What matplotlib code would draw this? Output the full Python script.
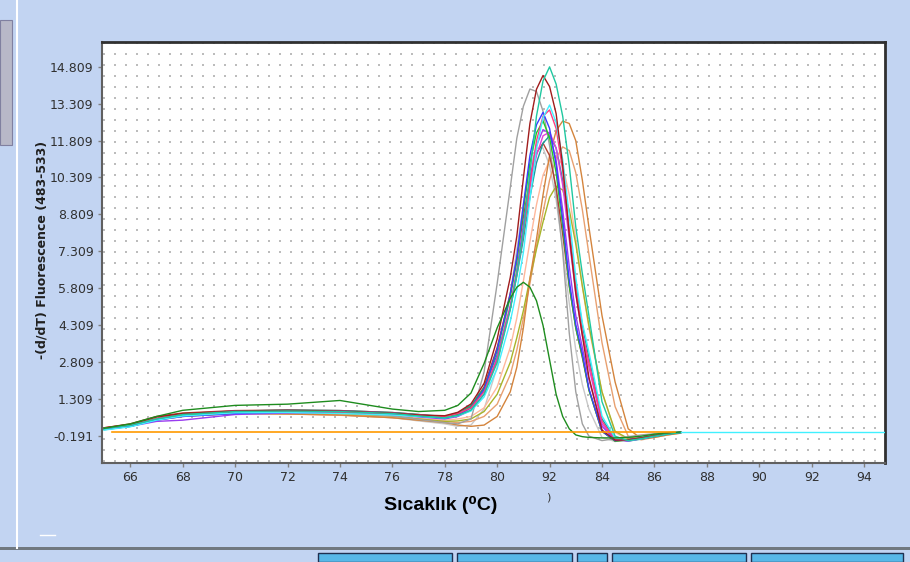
import numpy as np
import matplotlib

matplotlib.use("Agg")
import matplotlib.pyplot as plt
from matplotlib.patches import Rectangle
from matplotlib.lines import Line2D

# Temperaturas comunes de todas las curvas
temperaturas = [65, 66, 67, 68, 70, 72, 74, 76, 77,
                78, 78.5, 79, 79.5, 80, 80.5, 80.75, 81, 81.25, 81.5, 81.75,
                82, 82.25, 82.5, 82.75, 83, 83.25, 83.5, 84, 84.5, 85, 85.5,
                86, 86.5, 87]

# Curvas de fusion -(d/dT)
curva_gris = [0.1, 0.22, 0.48, 0.65, 0.78, 0.8, 0.75, 0.62, 0.48,
              0.35, 0.3, 0.5, 2.4, 6.0, 9.9, 11.9, 13.2, 13.9, 13.8, 13.0, 11.6, 9.7, 7.3, 4.0,
              1.6, 0.3, -0.2, -0.38, -0.3, -0.22, -0.15, -0.1, -0.06, -0.03]
curva_gris_clara = [0.12, 0.25, 0.5, 0.66, 0.74, 0.72, 0.66, 0.55, 0.42,
                    0.3, 0.2, 0.25, 0.9, 2.6, 5.6, 7.4, 9.2, 10.7, 11.5, 11.5, 10.8, 9.4, 7.4, 5.2,
                    3.3, 1.9, 0.9, -0.25, -0.42, -0.32, -0.22, -0.14, -0.08, -0.04]
curva_salmon = [0.1, 0.22, 0.48, 0.65, 0.75, 0.74, 0.7, 0.6, 0.52,
                0.45, 0.5, 0.6, 0.95, 1.8, 3.4, 4.6, 6.1, 7.7, 9.2, 10.4, 11.0, 11.2, 10.8, 9.6,
                7.8, 5.9, 4.2, 1.6, -0.05, -0.35, -0.3, -0.2, -0.12, -0.06]
curva_durazno = [0.1, 0.22, 0.46, 0.62, 0.72, 0.7, 0.65, 0.55, 0.46,
                 0.4, 0.35, 0.4, 0.6, 1.1, 2.3, 3.3, 4.6, 6.0, 7.5, 8.9, 10.2, 11.1, 11.55, 11.4,
                 10.5, 9.0, 7.2, 3.6, 1.0, -0.2, -0.35, -0.25, -0.15, -0.07]
curva_oliva = [0.12, 0.25, 0.5, 0.66, 0.76, 0.76, 0.72, 0.62, 0.5,
               0.4, 0.42, 0.5, 0.8, 1.5, 2.8, 3.8, 4.9, 6.2, 7.4, 8.5, 9.5, 9.95, 9.8, 9.0,
               7.6, 5.9, 4.3, 1.6, 0.0, -0.3, -0.28, -0.18, -0.1, -0.05]
curva_naranja = [0.1, 0.22, 0.45, 0.6, 0.72, 0.7, 0.66, 0.55, 0.45,
                 0.35, 0.25, 0.2, 0.25, 0.6, 1.6, 2.6, 4.2, 6.2, 7.8, 9.6, 11.2, 12.2, 12.6, 12.5,
                 11.8, 10.2, 8.3, 4.7, 2.0, 0.1, -0.3, -0.25, -0.15, -0.08]
curva_marron = [0.14, 0.3, 0.6, 0.74, 0.84, 0.86, 0.84, 0.76, 0.68,
                0.55, 0.7, 1.0, 1.8, 3.4, 5.6, 7.0, 8.7, 10.2, 11.3, 11.7, 11.2, 9.9, 8.0, 5.9,
                4.2, 3.0, 1.7, 0.0, -0.4, -0.35, -0.27, -0.17, -0.1, -0.04]
curva_cian_osc = [0.06, 0.2, 0.48, 0.66, 0.82, 0.86, 0.84, 0.76, 0.68,
                  0.6, 0.75, 1.05, 1.75, 3.1, 5.0, 6.3, 7.8, 9.5, 10.9, 11.7, 12.0, 11.5, 10.2, 8.2,
                  6.0, 4.3, 3.0, 0.5, -0.3, -0.4, -0.32, -0.22, -0.12, -0.05]
curva_magenta = [0.12, 0.24, 0.5, 0.68, 0.82, 0.84, 0.82, 0.74, 0.65,
                 0.55, 0.68, 0.95, 1.65, 3.0, 5.1, 6.5, 8.2, 9.9, 11.2, 12.0, 12.15, 11.5, 10.0, 7.8,
                 5.6, 3.9, 2.6, 0.3, -0.35, -0.38, -0.3, -0.2, -0.1, -0.05]
curva_morada = [0.1, 0.2, 0.4, 0.45, 0.68, 0.74, 0.76, 0.68, 0.58,
                0.5, 0.6, 0.85, 1.5, 2.9, 5.0, 6.5, 8.4, 10.3, 11.6, 12.25, 12.1, 11.0, 9.0, 6.7,
                4.7, 3.4, 2.1, 0.2, -0.35, -0.4, -0.3, -0.2, -0.11, -0.05]
curva_verde = [0.08, 0.2, 0.48, 0.66, 0.8, 0.82, 0.78, 0.7, 0.62,
               0.57, 0.69, 0.98, 1.71, 3.28, 5.46, 6.91, 8.97, 10.9, 12.12, 12.6, 11.92, 10.49, 8.33, 5.93,
               4.19, 3.05, 1.67, 0.0, -0.4, -0.36, -0.28, -0.19, -0.1, -0.05]
curva_azul = [0.1, 0.2, 0.45, 0.6, 0.72, 0.78, 0.8, 0.7, 0.62,
              0.53, 0.65, 0.95, 1.7, 3.33, 5.58, 7.08, 9.2, 11.2, 12.45, 12.95, 12.3, 10.83, 8.6, 6.13,
              4.33, 3.15, 1.73, 0.0, -0.38, -0.34, -0.27, -0.18, -0.1, -0.05]
curva_rosa = [0.12, 0.25, 0.52, 0.7, 0.8, 0.82, 0.78, 0.72, 0.66,
              0.6, 0.72, 0.95, 1.6, 2.9, 5.0, 6.4, 8.0, 10.0, 11.8, 12.8, 13.05, 12.3, 10.6, 8.2,
              5.8, 4.0, 2.8, 0.4, -0.33, -0.36, -0.28, -0.18, -0.1, -0.04]
curva_cian = [0.05, 0.18, 0.45, 0.62, 0.75, 0.76, 0.72, 0.66, 0.6,
              0.54, 0.63, 0.82, 1.39, 2.54, 4.45, 5.73, 7.26, 9.43, 11.47, 12.74, 13.25, 12.54, 11.04, 8.77,
              6.25, 4.41, 3.22, 0.62, -0.28, -0.38, -0.3, -0.2, -0.1, -0.03]
curva_roja = [0.14, 0.28, 0.58, 0.72, 0.82, 0.85, 0.82, 0.74, 0.66,
              0.63, 0.77, 1.11, 1.94, 3.75, 6.25, 7.92, 10.28, 12.5, 13.89, 14.45, 14.0, 12.9, 10.8, 8.0,
              5.6, 3.9, 2.2, 0.05, -0.36, -0.35, -0.27, -0.18, -0.1, -0.04]
curva_turquesa = [0.12, 0.24, 0.5, 0.68, 0.8, 0.82, 0.8, 0.72, 0.62,
                  0.54, 0.64, 0.86, 1.5, 2.79, 4.93, 6.36, 8.08, 10.5, 12.8, 14.23, 14.8, 14.1, 12.8, 10.8,
                  8.3, 6.4, 4.7, 1.2, -0.2, -0.38, -0.3, -0.2, -0.12, -0.06]
curva_verde_osc = [0.12, 0.3, 0.6, 0.85, 1.05, 1.1, 1.25, 0.9, 0.8,
                   0.85, 1.05, 1.55, 2.75, 4.2, 5.4, 5.85, 6.05, 5.85, 5.3, 4.3, 2.9, 1.5, 0.6, 0.1,
                   -0.15, -0.22, -0.25, -0.27, -0.27, -0.25, -0.2, -0.12, -0.06, -0.03]

# Lineas planas (control negativo y cola de la curva cian)
plana_x = [65.3, 86.8]
plana_y = [-0.03, -0.03]
cola_x = [87, 94.8]
cola_y = [-0.03, -0.03]

curvas = [
    (curva_gris_clara, "#c8c8c8"),
    (curva_salmon, "#ffb89c"),
    (curva_durazno, "#e8a070"),
    (curva_oliva, "#a8b428"),
    (curva_naranja, "#d4843c"),
    (curva_gris, "#a0a0a0"),
    (curva_marron, "#b04030"),
    (curva_cian_osc, "#189c9c"),
    (curva_magenta, "#e040d8"),
    (curva_morada, "#9a3cf0"),
    (curva_verde, "#22cc22"),
    (curva_azul, "#3c3cff"),
    (curva_rosa, "#ff3c80"),
    (curva_cian, "#40f0ff"),
    (curva_roja, "#a01c1c"),
    (curva_turquesa, "#1fc8a0"),
    (curva_verde_osc, "#1e8c1e"),
]

# Ejes
x_ticks = [66, 68, 70, 72, 74, 76, 78, 80, 82, 84, 86, 88, 90, 92, 94]
x_labels = ["66", "68", "70", "72", "74", "76", "78", "80", "92", "84", "86", "88", "90", "92", "94"]
y_ticks = [-0.191, 1.309, 2.809, 4.309, 5.809, 7.309, 8.809, 10.309, 11.809, 13.309, 14.809]
y_labels = ["-0.191", "1.309", "2.809", "4.309", "5.809", "7.309", "8.809", "10.309", "11.809", "13.309", "14.809"]

W, H = 910, 562
fondo = "#c2d4f2"
fig = plt.figure(figsize=(W / 100, H / 100), dpi=100, facecolor=fondo)
ax = fig.add_axes([102 / W, 1 - 463 / H, (885 - 102) / W, (463 - 42) / H])
ax.set_facecolor("white")

# Rejilla de puntos
gx, gy = np.meshgrid(np.arange(65.0, 95.0, 0.42), np.arange(-1.2, 15.9, 0.447))
ax.scatter(gx.ravel(), gy.ravel(), s=1.2, marker="s", color="#bcbcbc", linewidths=0, zorder=1)

for valores, color in curvas:
    ax.plot(temperaturas, valores, color=color, lw=1.0, zorder=3)

ax.plot(cola_x, cola_y, color="#40f0ff", lw=1.0, zorder=3)
ax.plot(plana_x, plana_y, color="#ff9a00", lw=1.2, zorder=4)

ax.set_xlim(64.92, 94.8)
ax.set_ylim(-1.29, 15.81)
ax.set_xticks(x_ticks)
ax.set_xticklabels(x_labels)
ax.set_yticks(y_ticks)
ax.set_yticklabels(y_labels)
ax.tick_params(axis="both", direction="out", length=3, width=1, color="#808080",
               labelsize=9, labelcolor="#303030", pad=3)
for lado in ["left", "bottom"]:
    ax.spines[lado].set_color("#606060")
    ax.spines[lado].set_linewidth(1.5)
for lado in ["top", "right"]:
    ax.spines[lado].set_color("#303030")
    ax.spines[lado].set_linewidth(2.0)

# Etiquetas
fig.text(42 / W, 1 - 250 / H, "-(d/dT) Fluorescence (483-533)", rotation=90,
         ha="center", va="center", fontsize=9, fontweight="bold", color="#202020")
fig.text(441 / W, 1 - 505 / H, "Sıcaklık (⁰C)", ha="center", va="center",
         fontsize=14, fontweight="bold", color="black",
         family=["Liberation Sans", "DejaVu Sans"])
fig.text(548 / W, 1 - 497 / H, ")", ha="center", va="center", fontsize=8, color="#303030")

# Detalles de la ventana
fig.add_artist(Line2D([17 / W, 17 / W], [1 - 548 / H, 1], color="white", lw=1.5))
fig.add_artist(Rectangle((0, 1 - 145 / H), 12 / W, 125 / H, facecolor="#b8b8c8",
                         edgecolor="#8080a0", lw=0.8))
fig.add_artist(Line2D([40 / W, 55 / W], [1 - 535 / H, 1 - 535 / H], color="white", lw=1))
fig.add_artist(Rectangle((0, 1 - 550 / H), 1, 3 / H, facecolor="#707880", edgecolor="none"))
for x0, x1 in [(318, 452), (457, 572), (577, 607), (612, 746), (751, 903)]:
    fig.add_artist(Rectangle((x0 / W, 0), (x1 - x0) / W, 9 / H, facecolor="#58b8e8",
                             edgecolor="#203050", lw=1))

fig.savefig("out.png", dpi=100, facecolor=fondo)
